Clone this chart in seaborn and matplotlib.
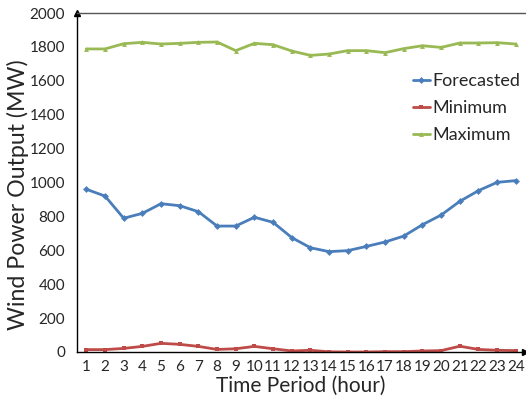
import numpy as np
import pandas as pd
import matplotlib
matplotlib.use("Agg")
import matplotlib.pyplot as plt
import seaborn as sns

hours = list(range(1, 25))
forecasted = [960, 920, 789, 818, 875, 863, 828, 743, 743, 795, 765, 675,
              615, 592, 598, 623, 649, 684, 751, 808, 889, 952, 1001, 1011]
minimum = [14, 14, 21, 33, 51, 45, 33, 15, 19, 33, 19, 6,
           10, 1, 0, 0, 2, 2, 6, 8, 34, 15, 10, 8]
maximum = [1788, 1788, 1819, 1827, 1817, 1821, 1827, 1829, 1778, 1821, 1813, 1776,
           1750, 1758, 1778, 1778, 1766, 1790, 1807, 1797, 1823, 1823, 1825, 1817]

df = pd.DataFrame({"Hour": hours * 3,
                   "Power": forecasted + minimum + maximum,
                   "Series": ["Forecasted"] * 24 + ["Minimum"] * 24 + ["Maximum"] * 24})

sns.set_style("white")
plt.rcParams['font.family'] = ['Lato', 'DejaVu Sans']

fig = plt.figure(figsize=(5.26, 4.03), dpi=100)
ax = fig.add_axes([0.1464, 0.1266, 0.852, 0.8411])

palette = {"Forecasted": "#4A7EBB", "Minimum": "#BE4B48", "Maximum": "#98B954"}
markers = {"Forecasted": "D", "Minimum": "s", "Maximum": "^"}
sns.lineplot(data=df, x="Hour", y="Power", hue="Series", style="Series",
             palette=palette, markers=markers, dashes=False, linewidth=2,
             markersize=3.5, markeredgewidth=0, ax=ax)

ax.set_xlim(0.5, 24.5)
ax.set_ylim(0, 2000)
ax.set_yticks(range(0, 2001, 200))
ax.set_xticks(hours)
ax.set_xticks(np.arange(0.5, 24.6, 1), minor=True)
ax.tick_params(axis='x', which='major', length=0, labelsize=11, pad=6)
ax.tick_params(axis='x', which='minor', length=5, width=1, direction='out', color='black')
ax.tick_params(axis='y', length=5, width=1, direction='out', labelsize=11, color='black')
ax.set_xlabel("Time Period (hour)", fontsize=15, labelpad=1)
ax.set_ylabel("Wind Power Output (MW)", fontsize=16.7)
ax.yaxis.set_label_coords(-0.108, 0.465)

for s in ['left', 'bottom']:
    ax.spines[s].set_color('black')
    ax.spines[s].set_linewidth(1)
ax.spines['top'].set_color('#555555')
ax.spines['top'].set_linewidth(1)
ax.spines['right'].set_visible(False)

ax.plot(1, 0, ">", color='black', markersize=4, transform=ax.transAxes, clip_on=False)
ax.plot(0, 1, "^", color='black', markersize=4, transform=ax.transAxes, clip_on=False)

leg = ax.legend(loc='upper right', bbox_to_anchor=(1.025, 0.87), frameon=False,
                fontsize=13, handlelength=0.9, handletextpad=0.15, labelspacing=0.6)

fig.savefig("out.png", dpi=100)
